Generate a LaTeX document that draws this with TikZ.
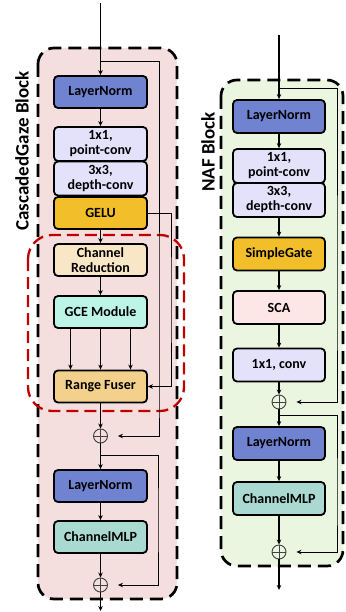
\documentclass[tikz,border=0pt]{standalone}
\usepackage{fontspec}
\setmainfont{Carlito}
\usetikzlibrary{arrows.meta}

\definecolor{normblue}{RGB}{112,131,208}
\definecolor{convlav}{RGB}{228,225,251}
\definecolor{gelugold}{RGB}{242,191,43}
\definecolor{redbeige}{RGB}{248,230,198}
\definecolor{gcemint}{RGB}{188,244,229}
\definecolor{fusegold}{RGB}{243,209,140}
\definecolor{mlpteal}{RGB}{169,217,208}
\definecolor{scapink}{RGB}{253,230,230}
\definecolor{pinkbg}{RGB}{244,222,222}
\definecolor{greenbg}{RGB}{235,246,225}
\definecolor{dashred}{RGB}{192,0,0}

\tikzset{
  blk/.style={draw, line width=1.8pt, rounded corners=4pt, minimum width=93pt,
    minimum height=32pt, inner sep=0pt, align=center,
    font=\bfseries\fontsize{14}{15}\selectfont},
  addop/.style={draw=black!75, circle, line width=0.9pt, minimum size=14pt, inner sep=0pt},
  flow/.style={line width=1.1pt, -{Stealth[length=5pt,width=4.5pt]}},
  skip/.style={line width=0.9pt, -{Stealth[length=5pt,width=4.5pt]}},
  blocktitle/.style={rotate=90, font=\bfseries\fontsize{19}{19}\selectfont}
}

\begin{document}
\begin{tikzpicture}[x=1pt,y=-1pt]
  \useasboundingbox (0,0) rectangle (345,612);

  % backgrounds
  \draw[fill=pinkbg, line width=2.7pt, dash pattern=on 13pt off 7pt, rounded corners=16pt]
    (38,48) rectangle (177,599);
  \draw[fill=greenbg, line width=2.7pt, dash pattern=on 13pt off 7pt, rounded corners=16pt]
    (221,80) rectangle (343,566);
  \draw[dashred, line width=2.3pt, dash pattern=on 12pt off 6pt, rounded corners=24pt]
    (28,235) rectangle (184,411);

  \node[blocktitle] (cgtitle) at (22,151) {CascadedGaze Block};
  \node[blocktitle] (naftitle) at (208,152) {NAF Block};

  % CascadedGaze block
  \coordinate (cgin) at (100.5,3);
  \coordinate (cgsplit) at (100.5,61);
  \node[blk, fill=normblue] (ln1) at (100.5,92) {LayerNorm};
  \node[blk, fill=convlav, minimum height=34pt] (pc1) at (100.5,144) {1x1,\\point-conv};
  \node[blk, fill=convlav, minimum height=34pt] (dc1) at (100.5,178.5) {3x3,\\depth-conv};
  \node[blk, fill=gelugold] (gelu) at (100.5,213) {GELU};
  \node[blk, fill=redbeige] (cred) at (100.5,260) {Channel\\Reduction};
  \node[blk, fill=gcemint] (gce) at (100.5,312) {GCE Module};
  \node[blk, fill=fusegold] (fuser) at (100.5,386.5) {Range Fuser};
  \node[addop] (add1) at (100.5,436) {};
  \coordinate (cgsplit2) at (100.5,455);
  \node[blk, fill=normblue] (ln2) at (100.5,486) {LayerNorm};
  \node[blk, fill=mlpteal] (mlp) at (100.5,537) {ChannelMLP};
  \node[addop] (add2) at (100.5,585) {};
  \coordinate (cgout) at (100.5,611);

  \draw[flow] (cgin) -- (ln1);
  \draw[flow] (ln1) -- (pc1);
  \draw[flow] (gelu) -- (cred);
  \draw[flow] (cred) -- (gce);
  \foreach \dx in {-30,0,30}
    \draw[flow] ([xshift=\dx pt]gce.south) -- ([xshift=\dx pt]fuser.north);
  \draw[flow] (fuser) -- (add1);
  \draw[flow] (add1) -- (ln2);
  \draw[flow] (ln2) -- (mlp);
  \draw[flow] (mlp) -- (add2);
  \draw[flow] (add2) -- (cgout);
  \draw[skip] (cgsplit) -| (159,400) |- ([xshift=10pt]add1.east);
  \draw[skip] (gelu.east) -| (171,300) |- (fuser.east);
  \draw[skip] (cgsplit2) -| (158,520) |- ([xshift=10pt]add2.east);
  \foreach \p in {add1,add2}
    \draw[black!75, line width=0.9pt] (\p.north) -- (\p.south) (\p.west) -- (\p.east);

  % NAF block
  \coordinate (nafin) at (279,35);
  \coordinate (nafsplit) at (279,88);
  \node[blk, fill=normblue, minimum width=92pt, minimum height=33pt] (nln1) at (279,116.5) {LayerNorm};
  \node[blk, fill=convlav, minimum width=92pt, minimum height=34pt] (npc) at (279,166) {1x1,\\point-conv};
  \node[blk, fill=convlav, minimum width=92pt, minimum height=34pt] (ndc) at (279,200) {3x3,\\depth-conv};
  \node[blk, fill=gelugold, minimum width=92pt, minimum height=33pt] (sgate) at (279,254) {SimpleGate};
  \node[blk, fill=scapink, minimum width=92pt, minimum height=33pt] (sca) at (279,307.5) {SCA};
  \node[blk, fill=convlav, minimum width=92pt, minimum height=33pt] (nconv) at (279,365) {1x1, conv};
  \node[addop] (nadd1) at (279,402) {};
  \coordinate (nafsplit2) at (279,415);
  \node[blk, fill=normblue, minimum width=92pt, minimum height=33pt] (nln2) at (279,443.5) {LayerNorm};
  \node[blk, fill=mlpteal, minimum width=92pt, minimum height=33pt] (nmlp) at (279,498.5) {ChannelMLP};
  \node[addop] (nadd2) at (279,552) {};
  \coordinate (nafout) at (279,590);

  \draw[flow] (nafin) -- (nln1);
  \draw[flow] (nln1) -- (npc);
  \draw[flow] (ndc) -- (sgate);
  \draw[flow] (sgate) -- (sca);
  \draw[flow] (sca) -- (nconv);
  \draw[flow] (nconv) -- (nadd1);
  \draw[flow] (nadd1) -- (nln2);
  \draw[flow] (nln2) -- (nmlp);
  \draw[flow] (nmlp) -- (nadd2);
  \draw[flow] (nadd2) -- (nafout);
  \draw[skip] (nafsplit) -| (337,300) |- ([xshift=10pt]nadd1.east);
  \draw[skip] (nafsplit2) -| (337,500) |- ([xshift=10pt]nadd2.east);
  \foreach \p in {nadd1,nadd2}
    \draw[black!75, line width=0.9pt] (\p.north) -- (\p.south) (\p.west) -- (\p.east);

\end{tikzpicture}
\end{document}
